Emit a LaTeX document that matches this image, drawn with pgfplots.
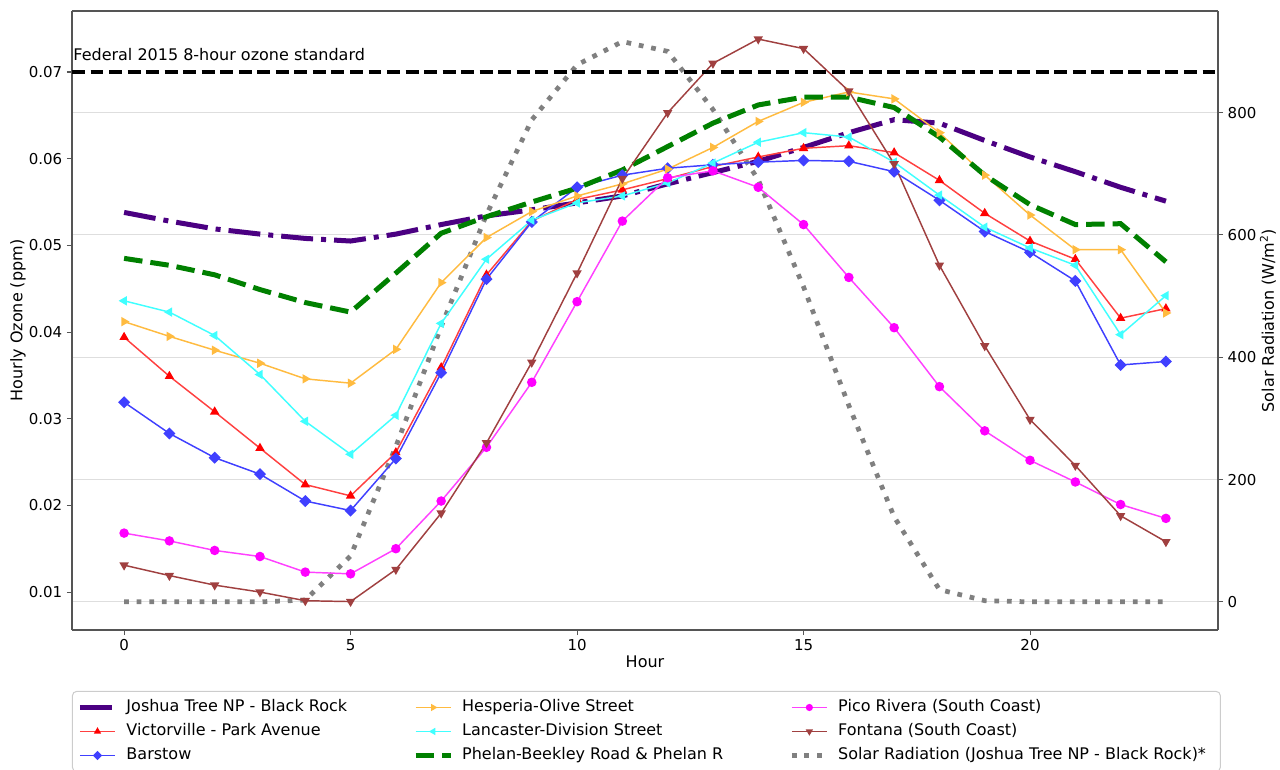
\documentclass[border=0pt]{standalone}
\usepackage{fontspec}
\setmainfont{DejaVu Sans}
\usepackage{pgfplots}
\usepackage{pgfplotstable}
\pgfplotsset{compat=1.18}

\definecolor{jtpurple}{HTML}{4B0082}
\definecolor{phgreen}{HTML}{008000}
\definecolor{hsorange}{HTML}{FFA500}
\definecolor{fnmaroon}{HTML}{800000}
\definecolor{lccyan}{HTML}{00FFFF}
\definecolor{prmagenta}{HTML}{FF00FF}
\definecolor{bsblue}{HTML}{0000FF}
\definecolor{vvred}{HTML}{FF0000}
\definecolor{spinegray}{HTML}{555555}

% hourly ozone (ppm) per site, solar radiation (W/m2)
\pgfplotstableread{
hour joshua victor barstow hesperia lancaster phelan pico fontana solar
0  0.0538 0.0394 0.0319 0.0412 0.0436 0.0485 0.0168 0.0131 0
1  0.0528 0.0349 0.0283 0.0395 0.0423 0.0477 0.0159 0.0119 0
2  0.0519 0.0308 0.0255 0.0379 0.0396 0.0466 0.0148 0.0108 0
3  0.0513 0.0266 0.0236 0.0364 0.0351 0.0449 0.0141 0.0100 0
4  0.0508 0.0224 0.0205 0.0346 0.0297 0.0434 0.0123 0.0090 3
5  0.0505 0.0211 0.0194 0.0341 0.0259 0.0423 0.0121 0.0089 75
6  0.0513 0.0261 0.0254 0.0380 0.0304 0.0468 0.0150 0.0126 254
7  0.0524 0.0359 0.0353 0.0457 0.0410 0.0514 0.0205 0.0191 450
8  0.0534 0.0466 0.0461 0.0509 0.0484 0.0533 0.0267 0.0272 633
9  0.0541 0.0528 0.0527 0.0539 0.0529 0.0550 0.0342 0.0365 788
10 0.0549 0.0553 0.0567 0.0557 0.0549 0.0566 0.0435 0.0468 878
11 0.0557 0.0564 0.0581 0.0571 0.0557 0.0587 0.0528 0.0577 916
12 0.0571 0.0577 0.0589 0.0588 0.0572 0.0614 0.0578 0.0653 900
13 0.0584 0.0591 0.0593 0.0613 0.0595 0.0641 0.0586 0.0710 805
14 0.0597 0.0602 0.0596 0.0643 0.0619 0.0662 0.0567 0.0738 690
15 0.0613 0.0612 0.0598 0.0665 0.0630 0.0671 0.0524 0.0727 515
16 0.0630 0.0615 0.0597 0.0677 0.0625 0.0671 0.0463 0.0678 321
17 0.0645 0.0607 0.0585 0.0669 0.0596 0.0659 0.0405 0.0594 139
18 0.0641 0.0575 0.0552 0.0630 0.0558 0.0625 0.0337 0.0477 20
19 0.0621 0.0537 0.0516 0.0581 0.0521 0.0581 0.0286 0.0384 2
20 0.0602 0.0505 0.0492 0.0535 0.0497 0.0547 0.0252 0.0299 0
21 0.0585 0.0484 0.0459 0.0495 0.0477 0.0524 0.0227 0.0246 0
22 0.0567 0.0416 0.0362 0.0495 0.0397 0.0525 0.0201 0.0188 0
23 0.0551 0.0427 0.0366 0.0422 0.0442 0.0481 0.0185 0.0158 0
}\ozone

\pgfplotsset{
  common/.style={
    scale only axis, width=859.5pt, height=464.25pt,
    xmin=-1.15, xmax=24.15,
    axis line style={spinegray, line width=0.8pt},
    tick style={spinegray, line width=0.8pt},
    major tick length=3.75pt, tick align=outside,
    ticklabel style={font=\fontsize{11.25}{13}\selectfont},
    /pgf/number format/assume math mode=true,
    label style={font=\fontsize{12}{14}\selectfont},
  },
}
\pgfplotsset{
  ozline/.style n args={2}{color=#1!75!white, line width=1.1pt, mark=#2,
    mark size=3pt, mark options={solid, fill=#1, draw=#1}},
}
\pgfplotsset{
  legend image code/.code={%
    \draw[mark repeat=2,mark phase=2,#1,every mark/.append style={scale=0.7}]
      plot coordinates {(0pt,0pt) (13.125pt,0pt) (26.25pt,0pt)};},
}

% fixed widths for the legend text columns
\newcommand\colA[1]{\makebox[215pt][l]{#1}}
\newcommand\colB[1]{\makebox[245.5pt][l]{#1}}
\newcommand\colC[1]{\makebox[282.75pt][l]{#1}}

\begin{document}
\begin{tikzpicture}[font=\fontsize{12}{14}\selectfont]
% right axis: solar radiation, with the grid
\begin{axis}[common,
  axis x line=none, axis y line*=right,
  ymin=-46, ymax=966,
  ytick={0,200,400,600,800},
  ymajorgrids, grid style={black!13, line width=0.9pt},
  ylabel={Solar Radiation (W/m\textsuperscript{2})},
  every axis y label/.style={at={(axis description cs:1.0436,0.5)}, rotate=90, anchor=center},
]
\addplot[color=gray, line width=3.56pt, dash pattern=on 3.56pt off 5.88pt]
  table[x=hour, y=solar] {\ozone};
\end{axis}

% left axis: ozone
\begin{axis}[common,
  axis y line*=left,
  ymin=0.00562, ymax=0.07704,
  xtick={0,5,10,15,20}, xtick pos=left,
  ytick={0.01,0.02,0.03,0.04,0.05,0.06,0.07},
  scaled y ticks=false,
  yticklabel style={/pgf/number format/fixed, /pgf/number format/precision=2,
    /pgf/number format/fixed zerofill},
  xlabel={Hour}, ylabel={Hourly Ozone (ppm)},
  every axis x label/.style={at={(axis description cs:0.5,-0.0517)}, anchor=center},
  every axis y label/.style={at={(axis description cs:-0.0471,0.5)}, rotate=90, anchor=center},
  legend columns=3, transpose legend,
  legend style={at={(axis description cs:0,-0.0985)}, anchor=north west,
    draw=black!20, line width=0.75pt, rounded corners=3pt, fill=white,
    inner xsep=3.75pt, inner ysep=3pt, row sep=0pt,
    font=\fontsize{12}{14}\selectfont,
    nodes={inner sep=0pt, text height=12pt, text depth=6pt},
    /tikz/every odd column/.append style={column sep=6.75pt},
    /tikz/every even column/.append style={column sep=0pt}},
  legend cell align=left,
]
\addplot[jtpurple, line width=3.75pt, dash pattern=on 24pt off 6pt on 3.75pt off 6pt]
  table[x=hour, y=joshua] {\ozone};
\addlegendentry{\colA{Joshua Tree NP - Black Rock}}
\addplot[ozline={vvred}{triangle*}] table[x=hour, y=victor] {\ozone};
\addlegendentry{\colA{Victorville - Park Avenue}}
\addplot[ozline={bsblue}{square*}, mark size=2.65pt, mark options={rotate=45}]
  table[x=hour, y=barstow] {\ozone};
\addlegendentry{\colA{Barstow}}
\addplot[ozline={hsorange}{triangle*}, mark options={rotate=-90}]
  table[x=hour, y=hesperia] {\ozone};
\addlegendentry{\colB{Hesperia-Olive Street}}
\addplot[ozline={lccyan}{triangle*}, mark options={rotate=90}]
  table[x=hour, y=lancaster] {\ozone};
\addlegendentry{\colB{Lancaster-Division Street}}
\addplot[phgreen, line width=3.75pt, dash pattern=on 13.9pt off 6pt]
  table[x=hour, y=phelan] {\ozone};
\addlegendentry{\colB{Phelan-Beekley Road \& Phelan R}}
\addplot[ozline={prmagenta}{*}] table[x=hour, y=pico] {\ozone};
\addlegendentry{\colC{Pico Rivera (South Coast)}}
\addplot[ozline={fnmaroon}{triangle*}, mark options={rotate=180}]
  table[x=hour, y=fontana] {\ozone};
\addlegendentry{\colC{Fontana (South Coast)}}
\addlegendimage{color=gray, line width=3.56pt, dash pattern=on 3.56pt off 5.88pt}
\addlegendentry{\colC{Solar Radiation (Joshua Tree NP - Black Rock)*}}

% federal standard
\addplot[black, line width=2.625pt, dash pattern=on 9.7pt off 4.2pt, forget plot]
  coordinates {(-1.15,0.07) (24.15,0.07)};
\node[anchor=base west, inner sep=0pt] at (rel axis cs:0.001,0.9208)
  {Federal 2015 8-hour ozone standard};
\end{axis}

\pgfresetboundingbox
\useasboundingbox (-54pt,-104.25pt) rectangle (906pt,472.5pt);
\end{tikzpicture}
\end{document}
